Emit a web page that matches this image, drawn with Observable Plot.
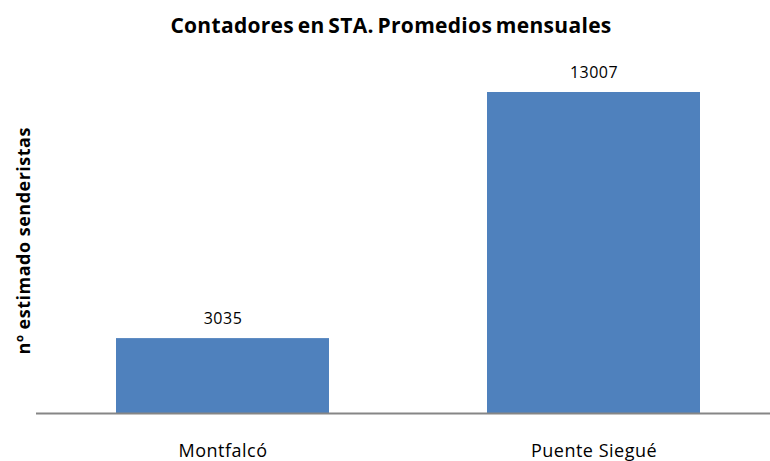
<!DOCTYPE html>
<html>
<head>
<meta charset="utf-8">
<script src="https://cdn.jsdelivr.net/npm/d3@7"></script>
<script src="https://cdn.jsdelivr.net/npm/@observablehq/plot@0.6"></script>
<style>
  html, body { margin: 0; padding: 0; background: #fff; }
  #wrap { width: 770px; height: 461px; overflow: hidden; font-family: "Open Sans", "Noto Sans", sans-serif; }
  #title { height: 50px; line-height: 50px; text-align: center; font-weight: bold; font-size: 21px; color: #000; padding-left: 12px; box-sizing: border-box; word-spacing: -2px; letter-spacing: 0.3px; white-space: nowrap; }
  svg { display: block; }
</style>
</head>
<body>
<div id="wrap">
  <div id="title">Contadores en STA. Promedios mensuales</div>
  <div id="chart"></div>
</div>
<script>
const categories = ["Montfalcó", "Puente Siegué"];
const values = [3035, 13007];
const yLabel = "nº estimado senderistas";

const data = categories.map((c, i) => ({ cat: c, value: values[i] }));

const chart = Plot.plot({
  width: 770,
  height: 411,
  marginTop: 17.5,
  marginBottom: 48,
  marginLeft: 36,
  marginRight: 0,
  style: { fontFamily: "'Open Sans', 'Noto Sans', sans-serif", color: "#000", background: "#fff", letterSpacing: "0.5px" },
  x: { domain: categories, range: [36, 780], paddingInner: 0.427, paddingOuter: 0.2137, axis: null, label: null },
  y: { domain: [0, 14000], axis: null, label: null },
  marks: [
    Plot.barY(data, { x: "cat", y: "value", fill: "#4F81BD" }),
    Plot.ruleY([0], { stroke: "#868686", strokeWidth: 2 }),
    Plot.text(data, { x: "cat", y: "value", text: d => String(d.value), lineAnchor: "bottom", dy: -15, fontSize: 16, fill: "#000" }),
    Plot.axisX({ tickSize: 0, tickPadding: 31, fontSize: 18, fill: "#000", label: null }),
    Plot.text([yLabel], { frameAnchor: "left", rotate: -90, dx: -12, fontSize: 18, fontWeight: "bold", fill: "#000", textAnchor: "middle" })
  ]
});
document.getElementById("chart").appendChild(chart);
</script>
</body>
</html>
